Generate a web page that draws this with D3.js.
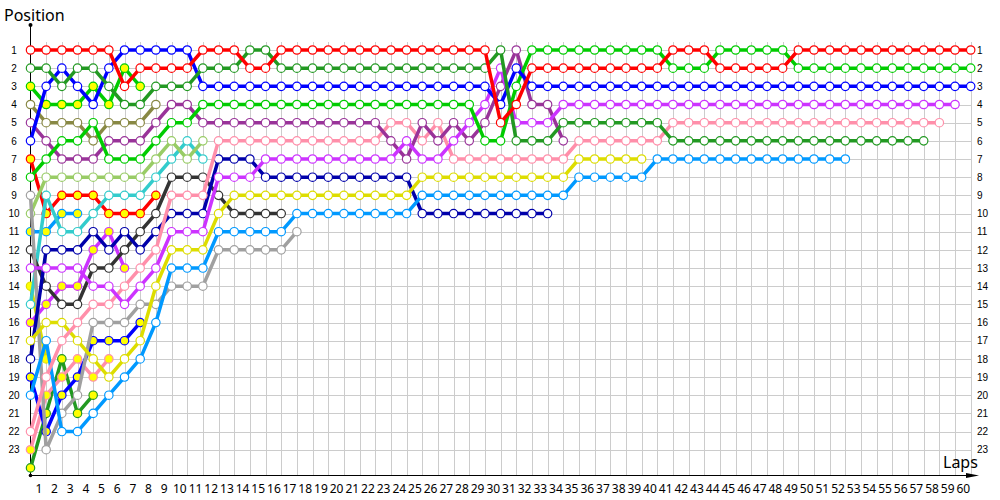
<!DOCTYPE html>
<html><head><meta charset="utf-8">
<script src="https://cdn.jsdelivr.net/npm/d3@7"></script>
<style>body{margin:0;background:#fff;} svg{display:block;font-family:"Noto Sans","DejaVu Sans",sans-serif;}</style>
</head><body><svg id="c" width="1000" height="500"></svg>
<script>
// ---------- data ----------
const lapTicks = d3.range(1, 61);
const positionTicks = d3.range(1, 24);
const lapLabels = lapTicks.map(String);
const positionLabels = positionTicks.map(String);

// position per lap, index = lap (0 = grid)
const posRed        = [1,1,1,1,1,1,3,2,2,2,2,1,1,1,2,2,1,1,1,1,1,1,1,1,1,1,1,1,1,1,5,4,2,2,2,2,2,2,2,2,2,1,1,1,2,2,2,2,2,1,1,1,1,1,1,1,1,1,1,1,1];
const posDarkGreen  = [2,2,3,2,2,3,4,4,3,3,3,2,2,2,1,1,2,2,2,2,2,2,2,2,2,2,2,2,2,2,1,6,6,6,5,5,5,5,5,5,5,6,6,6,6,6,6,6,6,6,6,6,6,6,6,6,6,6];
const posBlue       = [6,3,2,3,4,2,1,1,1,1,1,3,3,3,3,3,3,3,3,3,3,3,3,3,3,3,3,3,3,3,4,2,3,3,3,3,3,3,3,3,3,3,3,3,3,3,3,3,3,3,3,3,3,3,3,3,3,3,3,3,3];
const posBrightGreen= [8,7,6,6,5,7,7,7,6,5,5,4,4,4,4,4,4,4,4,4,4,4,4,4,4,4,4,4,4,6,6,3,1,1,1,1,1,1,1,1,1,2,2,2,1,1,1,1,1,2,2,2,2,2,2,2,2,2,2,2,2];
const posMagenta    = [13,13,13,13,14,14,15,14,13,11,11,11,8,8,8,7,7,7,7,7,7,7,7,7,6,7,7,6,5,4,2,5,5,5,4,4,4,4,4,4,4,4,4,4,4,4,4,4,4,4,4,4,4,4,4,4,4,4,4,4];
const posPurple     = [5,6,7,7,7,6,6,6,5,4,4,5,5,5,5,5,5,5,5,5,5,5,5,6,7,5,6,5,6,5,3,1,4,4,6];
const posPink       = [22,19,17,16,15,15,14,13,12,9,9,9,6,6,6,6,6,6,6,6,6,6,6,5,5,6,5,7,7,7,7,7,7,7,7,6,6,6,6,6,6,5,5,5,5,5,5,5,5,5,5,5,5,5,5,5,5,5,5];
const posYellow     = [17,16,16,17,18,19,18,17,14,12,12,12,10,9,9,9,9,9,9,9,9,9,9,9,9,8,8,8,8,8,8,8,8,8,8,7,7,7,7,7];
const posLightBlue  = [20,17,22,22,21,20,19,18,16,13,13,13,11,11,11,11,11,10,10,10,10,10,10,10,10,9,9,9,9,9,9,9,9,9,9,8,8,8,8,8,7,7,7,7,7,7,7,7,7,7,7,7,7];
const posGray       = [9,23,21,20,16,16,16,15,15,14,14,14,12,12,12,12,12,11];
const posBlack      = [12,14,15,15,13,13,12,11,10,8,8,8,9,10,10,10,10];
const posDarkBlue   = [18,12,12,12,11,12,11,12,11,10,10,10,7,7,7,8,8,8,8,8,8,8,8,8,8,10,10,10,10,10,10,10,10,10];
const posLightGreen = [10,8,8,8,8,8,8,8,7,6,7,6];
const posCyan       = [15,9,11,11,10,9,9,9,8,7,6,7];
const posOlive      = [4,5,5,5,6,5,5,5,4];
// retired early (drawn with filled markers)
const posRedB         = [7,10,9,9,9,10,10,10,9];
const posBrightGreenB = [3,4,4,4,3,4,2,3];
const posLightBlueB   = [11,11,10,10];
const posMagentaB     = [16,15,14,14,12,11,13];
const posYellowB      = [14,18];
const posBlueB        = [19,22,20,19,17,17,17,16];
const posPinkB        = [23,20,19,18,19,18];
const posDarkGreenB   = [24,21,18,21,20];

// ---------- styles ----------
const C = {red:"#ff0000", dkgreen:"#229922", blue:"#0000ff", bgreen:"#00cc00", magenta:"#cc33ff",
  purple:"#993399", pink:"#ff8faa", yellow:"#dddd00", lblue:"#0099ff", gray:"#a0a0a0", black:"#333333",
  dkblue:"#0000aa", lgreen:"#99cc66", cyan:"#33cccc", olive:"#888844"};

const series = [
  {v: posDarkGreenB, c: C.dkgreen, f: true},
  {v: posPinkB, c: C.pink, f: true},
  {v: posBlueB, c: C.blue, f: true},
  {v: posYellowB, c: C.yellow, f: true},
  {v: posMagentaB, c: C.magenta, f: true},
  {v: posLightBlueB, c: C.lblue, f: true},
  {v: posBrightGreenB, c: C.bgreen, f: true},
  {v: posRedB, c: C.red, f: true},
  {v: posOlive, c: C.olive},
  {v: posCyan, c: C.cyan},
  {v: posLightGreen, c: C.lgreen},
  {v: posBlack, c: C.black},
  {v: posGray, c: C.gray},
  {v: posDarkBlue, c: C.dkblue},
  {v: posLightBlue, c: C.lblue},
  {v: posYellow, c: C.yellow},
  {v: posPink, c: C.pink},
  {v: posPurple, c: C.purple},
  {v: posMagenta, c: C.magenta},
  {v: posBrightGreen, c: C.bgreen},
  {v: posBlue, c: C.blue},
  {v: posDarkGreen, c: C.dkgreen},
  {v: posRed, c: C.red}
];

// ---------- chart ----------
const svg = d3.select('#c');
const x = d3.scaleLinear().domain([0, 60]).range([30.5, 970.7]);
const y = d3.scaleLinear().domain([1, 24]).range([50, 467.9]);
const axisY = 475.5;

const grid = svg.append('g').attr('stroke', '#cccccc').attr('stroke-width', 1);
grid.selectAll('line.v').data(lapTicks).join('line').attr('class','v')
  .attr('x1', d => Math.round(x(d)) + 0.5).attr('x2', d => Math.round(x(d)) + 0.5)
  .attr('y1', 42).attr('y2', axisY);
grid.selectAll('line.h').data(positionTicks).join('line').attr('class','h')
  .attr('x1', x(0)).attr('x2', Math.round(x(60)) + 0.5)
  .attr('y1', d => Math.round(y(d)) + 0.5).attr('y2', d => Math.round(y(d)) + 0.5);

// axes lines
svg.append('line').attr('x1', 30.5).attr('x2', 30.5).attr('y1', 25).attr('y2', axisY).attr('stroke', '#000');
svg.append('line').attr('x1', 30.5).attr('x2', 970).attr('y1', axisY).attr('y2', axisY).attr('stroke', '#000');
svg.append('path').attr('d', `M966,${axisY-2.5} L979,${axisY} L966,${axisY+2.5} Z`).attr('fill', '#000');
svg.append('circle').attr('cx', 30.5).attr('cy', 25).attr('r', 2).attr('fill', '#000');
svg.append('circle').attr('cx', 30.5).attr('cy', axisY).attr('r', 1.8).attr('fill', '#000');

// bottom lap labels (centred between grid lines)
const xb = svg.append('g').attr('transform', `translate(0,${axisY})`)
  .call(d3.axisBottom(x).tickValues(lapTicks.map(n => n - 0.5)).tickFormat((d, i) => lapLabels[i]).tickSize(0).tickPadding(9));
xb.select('.domain').remove();
xb.selectAll('text').attr('font-size', 12).attr('font-family', '"Noto Sans",sans-serif').attr('fill', '#000');

// left / right position labels
const yl = svg.append('g').attr('transform', 'translate(30,0)')
  .call(d3.axisLeft(y).tickValues(positionTicks).tickFormat((d, i) => positionLabels[i]).tickSize(0));
yl.select('.domain').remove();
yl.selectAll('text').attr('x', -16).attr('text-anchor', 'middle').attr('font-size', 10).attr('fill', '#000');
const yr = svg.append('g').attr('transform', 'translate(977,0)')
  .call(d3.axisRight(y).tickValues(positionTicks).tickFormat((d, i) => positionLabels[i]).tickSize(0));
yr.select('.domain').remove();
yr.selectAll('text').attr('x', 0).attr('text-anchor', 'start').attr('font-size', 10).attr('fill', '#000');

// titles
svg.append('text').attr('x', 4).attr('y', 21).attr('font-size', 16).text('Position');
svg.append('text').attr('x', 943).attr('y', 468).attr('font-size', 16).text('Laps');

// series
const line = d3.line().x((d, i) => x(i)).y(d => y(d));
const sg = svg.append('g');
series.forEach(s => {
  const g = sg.append('g');
  g.append('path').attr('d', line(s.v)).attr('fill', 'none').attr('stroke', s.c)
    .attr('stroke-width', 3.5).attr('stroke-linejoin', 'round');
  g.selectAll('circle').data(s.v).join('circle')
    .attr('cx', (d, i) => x(i)).attr('cy', d => y(d)).attr('r', 4.2)
    .attr('fill', s.f ? '#ffff00' : '#ffffff').attr('stroke', s.c).attr('stroke-width', 1.2);
});
</script>
</body></html>
